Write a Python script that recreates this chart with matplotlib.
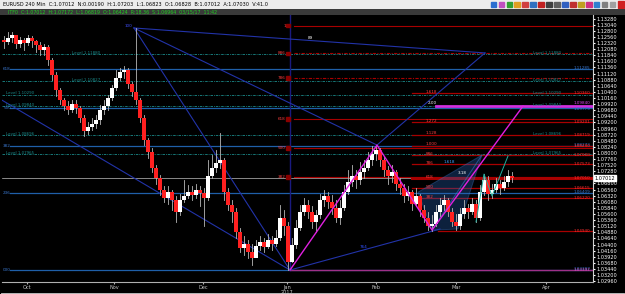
import numpy as np
import matplotlib
matplotlib.use("Agg")
import matplotlib.pyplot as plt
from matplotlib.patches import Rectangle, Polygon

# 4h candles, EURUSD, one entry per drawn bar
close = [1.1236, 1.1252, 1.1263, 1.1228, 1.1244, 1.1232, 1.1252, 1.1240, 1.1224, 1.1205,
         1.1216, 1.1165, 1.1106, 1.1047, 1.1008, 1.0984, 1.0969, 1.0992, 1.0977, 1.0937,
         1.0886, 1.0902, 1.0914, 1.0929, 1.0969, 1.0984, 1.1016, 1.1055, 1.1095, 1.1118,
         1.1126, 1.1071, 1.1039, 1.1008, 1.0937, 1.0851, 1.0804, 1.0741, 1.0702, 1.0654,
         1.0623, 1.0646, 1.0615, 1.0568, 1.0615, 1.0631, 1.0646, 1.0635, 1.0654, 1.0643,
         1.0623, 1.0709, 1.0741, 1.0760, 1.0772, 1.0646, 1.0595, 1.0568, 1.0489, 1.0426,
         1.0442, 1.0411, 1.0387, 1.0434, 1.0450, 1.0430, 1.0458, 1.0442, 1.0466, 1.0544,
         1.0513, 1.0371, 1.0438, 1.0505, 1.0568, 1.0595, 1.0568, 1.0529, 1.0556, 1.0615,
         1.0631, 1.0607, 1.0584, 1.0544, 1.0584, 1.0646, 1.0686, 1.0709, 1.0694, 1.0725,
         1.0741, 1.0772, 1.0796, 1.0812, 1.0772, 1.0733, 1.0709, 1.0725, 1.0678, 1.0662,
         1.0631, 1.0646, 1.0599, 1.0631, 1.0576, 1.0544, 1.0513, 1.0521, 1.0568, 1.0595,
         1.0615, 1.0568, 1.0529, 1.0513, 1.0560, 1.0584, 1.0568, 1.0599, 1.0544, 1.0646,
         1.0694, 1.0639, 1.0654, 1.0678, 1.0662, 1.0686, 1.0709, 1.0701]
high = [1.1260, 1.1275, 1.1275, 1.1263, 1.1256, 1.1252, 1.1263, 1.1260, 1.1244, 1.1236,
        1.1228, 1.1224, 1.1173, 1.1118, 1.1055, 1.1016, 1.1004, 1.1008, 1.1008, 1.0984,
        1.0949, 1.0922, 1.0937, 1.0949, 1.0988, 1.1008, 1.1028, 1.1067, 1.1126, 1.1134,
        1.1142, 1.1134, 1.1079, 1.1291, 1.1016, 1.0949, 1.0859, 1.0819, 1.0753, 1.0713,
        1.0670, 1.0670, 1.0654, 1.0631, 1.0639, 1.0694, 1.0674, 1.0670, 1.0678, 1.0670,
        1.0662, 1.0772, 1.0792, 1.0812, 1.0878, 1.0780, 1.0662, 1.0615, 1.0584, 1.0505,
        1.0474, 1.0458, 1.0442, 1.0458, 1.0474, 1.0466, 1.0481, 1.0474, 1.0497, 1.0595,
        1.0576, 1.0529, 1.0466, 1.0536, 1.0595, 1.0623, 1.0615, 1.0591, 1.0576, 1.0639,
        1.0654, 1.0646, 1.0635, 1.0615, 1.0615, 1.0674, 1.0733, 1.0753, 1.0733, 1.0764,
        1.0772, 1.0804, 1.0827, 1.0831, 1.0819, 1.0788, 1.0749, 1.0753, 1.0733, 1.0702,
        1.0678, 1.0670, 1.0654, 1.0662, 1.0639, 1.0595, 1.0568, 1.0556, 1.0595, 1.0623,
        1.0635, 1.0623, 1.0584, 1.0560, 1.0584, 1.0615, 1.0599, 1.0623, 1.0615, 1.0674,
        1.0717, 1.0709, 1.0678, 1.0702, 1.0694, 1.0709, 1.0733, 1.0725]
low = [1.1212, 1.1228, 1.1236, 1.1212, 1.1216, 1.1205, 1.1224, 1.1216, 1.1197, 1.1185,
       1.1185, 1.1146, 1.1087, 1.1024, 1.0992, 1.0969, 1.0953, 1.0961, 1.0957, 1.0922,
       1.0867, 1.0874, 1.0890, 1.0898, 1.0914, 1.0953, 1.0969, 1.1008, 1.1047, 1.1087,
       1.1095, 1.1055, 1.1024, 1.0992, 1.0922, 1.0831, 1.0780, 1.0725, 1.0678, 1.0635,
       1.0607, 1.0599, 1.0576, 1.0529, 1.0556, 1.0607, 1.0623, 1.0615, 1.0623, 1.0591,
       1.0513, 1.0615, 1.0702, 1.0725, 1.0741, 1.0615, 1.0576, 1.0529, 1.0466, 1.0411,
       1.0399, 1.0387, 1.0360, 1.0395, 1.0419, 1.0411, 1.0426, 1.0419, 1.0434, 1.0458,
       1.0477, 1.0340, 1.0371, 1.0426, 1.0497, 1.0556, 1.0544, 1.0505, 1.0489, 1.0544,
       1.0591, 1.0584, 1.0560, 1.0529, 1.0521, 1.0576, 1.0639, 1.0670, 1.0662, 1.0678,
       1.0702, 1.0733, 1.0753, 1.0772, 1.0749, 1.0709, 1.0678, 1.0686, 1.0654, 1.0639,
       1.0607, 1.0615, 1.0576, 1.0591, 1.0552, 1.0529, 1.0497, 1.0493, 1.0513, 1.0552,
       1.0576, 1.0552, 1.0513, 1.0497, 1.0501, 1.0544, 1.0544, 1.0560, 1.0529, 1.0536,
       1.0635, 1.0615, 1.0623, 1.0646, 1.0639, 1.0654, 1.0670, 1.0686]
first_open = 1.1244

months = ["Oct", "Nov", "Dec", "Jan\n2017", "Feb", "Mar", "Apr"]
month_pos = [5.75, 27.5, 49.75, 70.75, 93, 113, 135.5]

# swing points used by the drawn objects (bar index, price)
nov_hi = (32.5, 1.1291)
jan_lo = (71.5, 1.0340)
feb_hi = (93.25, 1.0831)
feb_lo = (107, 1.0497)
pt_r = (120.25, 1.1193)
mag_top = (129.75, 1.0984)
left_start = (-1, 1.1012)
blue_end = (109, 1.0501)

blue_fib = {"000": 1.03397, "236": 1.06409, "382": 1.08273, "500": 1.09779, "618": 1.11285}
red_fib_l = {"382": 1.07065, "500": 1.08199, "618": 1.09333, "786": 1.10947, "886": 1.11908, "1": 1.13000}
red_fib_r = {"0": 1.04940, "382": 1.06220, "500": 1.06615, "618": 1.07010, "786": 1.07573,
             "886": 1.07908, "1.000": 1.08290, "1.128": 1.08719, "1.272": 1.09201, "1.618": 1.10360}
teal_levels = [1.11880, 1.10827, 1.10290, 1.09840, 1.08696, 1.07965]

last_price = 1.07012
ymin, ymax = 1.0293, 1.1342
xmin, xmax = -0.5, 147.25

W, H = 625, 294
fig = plt.figure(figsize=(W / 100, H / 100), dpi=100, facecolor="black")

# header bars
hdr = fig.add_axes([0, 1 - 9 / H, 1, 9 / H])
hdr.set_facecolor("#ececec")
hdr.set_xticks([]); hdr.set_yticks([])
for s in hdr.spines.values():
    s.set_visible(False)
hdr.text(0.005, 0.45, "EURUSD 240 Min  C:1.07012  N:0.00190  H:1.07203  L:1.06823  O:1.06828  B:1.07012  A:1.07030  V:41.0",
         fontsize=3.6, color="black", va="center", transform=hdr.transAxes)
icon_cols = ["#2a6fd0", "#c050c0", "#30a030", "#e0a020", "#d04040", "#3070c0", "#c02020",
             "#404040", "#606060", "#3060c0", "#c03030", "#c0a020", "#d03080", "#3080d0", "#808080", "#a0a0a0"]
for k, c in enumerate(icon_cols):
    hdr.add_patch(Rectangle((0.785 + k * 0.0127, 0.2), 0.009, 0.6, color=c, transform=hdr.transAxes))
hdr.add_patch(Rectangle((0.988, 0.15), 0.011, 0.7, color="#d02020", transform=hdr.transAxes))

sub = fig.add_axes([0, 1 - 15 / H, 1, 6 / H])
sub.set_facecolor("#3a3a3a")
sub.set_xticks([]); sub.set_yticks([])
for s in sub.spines.values():
    s.set_visible(False)
sub.text(0.012, 0.45, "ITF0  C:1.07012  H:1.07172  L:1.06819  O:1.06424  R:18.36  S:1.06964  03/15/17  11:42",
         fontsize=3.4, color="#20d020", va="center", transform=sub.transAxes)

foot = fig.add_axes([0, 0, 1, 2 / H])
foot.set_facecolor("#c8c8c8")
foot.set_xticks([]); foot.set_yticks([])

ax = fig.add_axes([2 / W, 12 / H, 591 / W, 267 / H])
ax.set_facecolor("black")
ax.set_xlim(xmin, xmax)
ax.set_ylim(ymin, ymax)
for side in ["top", "left"]:
    ax.spines[side].set_visible(False)
ax.spines["bottom"].set_color("#b0b0b0")
ax.spines["right"].set_color("#d0d0d0")
ax.spines["bottom"].set_linewidth(0.8)
ax.spines["right"].set_linewidth(0.8)

# fib / level lines
blue = "#1f5fa8"
for lab, v in blue_fib.items():
    ax.plot([1.5, xmax], [v, v], color=blue, lw=0.9, zorder=2)
    ax.text(-0.2, v, lab, color="#3a78d0", fontsize=3, va="center", ha="left", zorder=6)
    off = -0.0005 if lab == "500" else 0.0004
    ax.text(146.6, v + off, f"{v:.5f}", color="#3a78d0", fontsize=3, va="center", ha="right", zorder=6)

teal = "#1b8a8a"
for k, v in enumerate(teal_levels):
    ax.plot([xmin, xmax], [v, v], color=teal, lw=0.6, ls=(0, (3, 1.2, 1, 1.2)), zorder=2)
    lx = 17 if k < 2 else 0.5
    ax.text(lx, v + 0.0005, f"Level {v:.5f}", color=teal, fontsize=2.9, va="center", ha="left", zorder=6)
    ax.text(139.3, v + 0.0005, f"Level {v:.5f}", color=teal, fontsize=2.9, va="center", ha="right", zorder=6)

red = "#a80000"
for lab, v in red_fib_l.items():
    dash = (0, (3, 1.2, 1, 1.2)) if lab in ("886", "786") else "-"
    ax.plot([72.5, xmax], [v, v], color=red, lw=0.8, ls=dash, zorder=2)
    ax.add_patch(Rectangle((70.6, v - 0.0007), 1.0, 0.0014, color="#8a0000", zorder=5))
    ax.text(70.4, v, lab, color="#ff4040", fontsize=3, va="center", ha="right", zorder=6)
for lab, v in red_fib_r.items():
    lw = 2.2 if lab == "618" else 0.9
    x0 = 108.5 if lab == "0" else 102
    ax.plot([x0, xmax], [v, v], color=red, lw=lw, zorder=2)
    if lab != "0":
        ax.text(105.5, v + 0.0005, lab, color="#ff4040", fontsize=3, va="center", ha="left", zorder=6)
    ax.text(146.6, v, f"{v:.5f}", color="#ff3030", fontsize=3, va="center", ha="right", zorder=6)

# vertical marker at the Jan low
ax.plot([jan_lo[0], jan_lo[0]], [jan_lo[1], ymax], color="#1a1a80", lw=1.0, zorder=2)

# magenta horizontals
ax.plot([108, xmax], [mag_top[1], mag_top[1]], color="#d030e0", lw=2.0, zorder=3)
ax.text(146.6, mag_top[1] + 0.0013, f"{mag_top[1]:.5f}", color="#e040f0", fontsize=3, va="center", ha="right", zorder=6)
ax.text(107, mag_top[1] + 0.0012, "2.00", color="white", fontsize=3, va="center", ha="center", zorder=6)
ax.plot([jan_lo[0], xmax], [jan_lo[1], jan_lo[1]], color="#a03088", lw=1.0, zorder=3)
ax.text(146.6, jan_lo[1], "1.03397", color="#d050c0", fontsize=3, va="center", ha="right", zorder=6)

# harmonic pattern fill
tri1 = [(103.5, 1.0646), feb_lo, (119.5, 1.0792)]
tri2 = [feb_lo, (113.5, 1.0501), (119.5, 1.0792)]
for tri in (tri1, tri2):
    ax.add_patch(Polygon(tri, closed=True, facecolor="#2860b0", alpha=0.35, edgecolor="#3a7ad0", lw=0.7, zorder=2))
ax.text(110, 1.0759, "1.618", color="#40a0ff", fontsize=3, zorder=6)
ax.text(113.5, 1.0717, "3.18", color="white", fontsize=3, zorder=6)

# candles
opens = [first_open] + close[:-1]
for i, (o, c, h, l) in enumerate(zip(opens, close, high, low)):
    ax.plot([i, i], [l, h], color="#b8b8b8", lw=0.6, zorder=4)
    col = "white" if c >= o else "#ff2020"
    b0, b1 = min(o, c), max(o, c)
    ax.add_patch(Rectangle((i - 0.38, b0), 0.76, max(b1 - b0, 0.00015), color=col, zorder=4, lw=0))

# trend lines
navy = "#2233a8"
for a, b in [(nov_hi, pt_r), (nov_hi, feb_hi), (feb_hi, pt_r), (nov_hi, jan_lo),
             (left_start, jan_lo), (jan_lo, blue_end)]:
    ax.plot([a[0], b[0]], [a[1], b[1]], color=navy, lw=0.8, zorder=3)
ax.text(nov_hi[0] - 0.5, nov_hi[1] + 0.0004, "100", color="#4050ff", fontsize=3, ha="right", zorder=6)
ax.text(76, 1.1246, "89", color="white", fontsize=3, zorder=6)
ax.text(89, 1.0426, "764", color="#3050ff", fontsize=3, zorder=6)

mx = [jan_lo[0], feb_hi[0], feb_lo[0], mag_top[0]]
my = [jan_lo[1], feb_hi[1], feb_lo[1], mag_top[1]]
ax.plot(mx, my, color="#e020e0", lw=1.0, zorder=5)

# teal zigzag
ax.plot([118, 120, 122, 126], [1.0529, 1.0717, 1.0631, 1.0788], color="#20b0a0", lw=0.7, zorder=5)

# current price marker
ax.axhline(last_price, color="#c0c0c0", lw=0.5, zorder=1)

# axes ticks
ax.set_xticks(month_pos)
ax.set_xticklabels(months, color="#c8c8c8", fontsize=3.6, linespacing=0.9)
ax.tick_params(axis="x", length=1.5, color="#b0b0b0", pad=1)
ticks = np.arange(1.02960, 1.1337, 0.0024)
ax.yaxis.tick_right()
ax.set_yticks(ticks)
ax.set_yticklabels(["" if abs(t - last_price) < 0.0017 else f"{t:.5f}" for t in ticks],
                   color="white", fontsize=3.6)
ax.tick_params(axis="y", length=1.5, color="white", pad=1)
ax.text(1.003, last_price, f"{last_price:.5f}", transform=ax.get_yaxis_transform(), fontsize=3.6,
        color="black", va="center", ha="left", zorder=10, clip_on=False,
        bbox=dict(boxstyle="square,pad=0.15", fc="white", ec="white"))

fig.savefig("out.png", dpi=100, facecolor=fig.get_facecolor())
